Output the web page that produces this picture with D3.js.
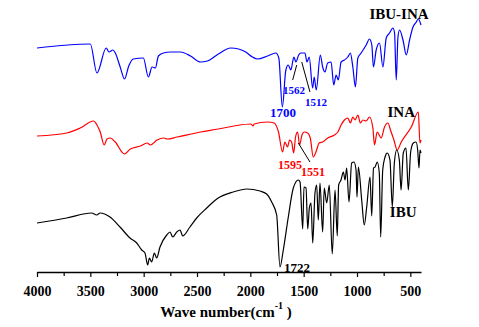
<!DOCTYPE html>
<html>
<head>
<meta charset="utf-8">
<script src="https://cdn.jsdelivr.net/npm/d3@7"></script>
<style>
  html, body { margin: 0; padding: 0; background: #fff; }
  svg { display: block; }
</style>
</head>
<body>
<script>
// ---- Data (wavenumber cm^-1, offset transmittance a.u.) ----
const seriesNames = ["IBU-INA", "INA", "IBU"];
const seriesColors = ["#0000ff", "#ff0000", "#000000"];

const ibuInaWn = [4000,3500,3438,3351,3325,3288,3266,3220,3179,3140,3097,3003,2956,2921,2890,2862,2815,2749,2655,2560,2467,2403,2300,2184,2110,2043,1980,1933,1839,1761,1733,1700,1667,1645,1620,1592,1573,1547,1526,1510,1488,1469,1448,1416,1401,1382,1344,1322,1300,1275,1243,1218,1196,1175,1149,1118,1086,1062,1039,1015,992,961,914,883,861,846,820,789,757,726,695,663,648,632,616,601,569,538,507,475,444,425,400];
const ibuInaT  = [224,228,199,224,220,222,219,205,193,206,213,214,195,205,204,216,219,220,220,216,210,211,218,224,223,220,215,213,216,219,214,165,202,207,202,215,210,217,219,219,219,210,215,184,195,182,217,205,200,209,210,187,197,192,210,212,215,219,205,185,214,219,227,233,227,205,222,229,205,234,239,244,239,192,235,242,232,217,232,245,250,253,247];

const inaWn = [4000,3721,3595,3470,3438,3407,3370,3344,3313,3266,3181,3125,3031,2968,2937,2874,2812,2780,2686,2467,2300,2153,1996,1974,1965,1839,1777,1736,1698,1676,1651,1632,1613,1594,1576,1557,1538,1516,1495,1463,1438,1410,1385,1354,1322,1275,1212,1180,1149,1118,1086,1062,1039,1018,992,968,945,914,883,851,836,811,773,742,710,686,654,623,585,491,425,410,400];
const inaT  = [136,139,144,151,147,140,127,133,134,130,118,123,126,129,127,132,134,133,135,140,143,146,148,146,148,150,149,140,120,130,125,132,130,119,135,140,127,137,140,139,134,115,120,129,130,134,137,140,147,152,154,149,155,152,157,149,152,151,155,144,127,140,134,145,149,142,132,122,130,145,160,129,132];

const ibuWn = [4000,3722,3487,3440,3409,3316,3222,3128,3065,3018,2988,2962,2947,2925,2900,2878,2847,2784,2753,2728,2690,2659,2634,2566,2503,2409,2315,2160,2034,1909,1847,1800,1753,1722,1691,1644,1597,1550,1534,1509,1497,1478,1462,1447,1431,1415,1394,1378,1363,1347,1322,1307,1284,1260,1232,1206,1185,1172,1150,1128,1112,1097,1075,1050,1028,1009,1000,987,956,932,909,878,862,845,831,810,791,778,759,737,716,691,669,650,628,603,587,566,541,519,497,472,447,431,419,409,400];
const ibuT  = [49,54,59,57,59,55,45,34,29,22,19,7,14,10,19,14,25,37,40,35,40,42,36,45,54,64,73,80,83,81,78,70,57,5,22,55,84,92,90,43,85,84,43,64,69,29,79,87,52,89,40,84,69,87,18,82,36,87,92,100,92,104,70,109,110,102,75,105,72,47,65,95,56,104,105,110,99,35,102,115,119,112,65,109,122,112,82,119,124,82,120,129,130,122,104,122,119];

const majorTicks = [4000,3500,3000,2500,2000,1500,1000,500];
const minorTicks = [3750,3250,2750,2250,1750,1250,750];

// peak annotations
const peakLabels = ["1700","1562","1512","1595","1551","1722"];
const peakSeries = [0,0,0,1,1,2];
const peakTextWn = [1694,1591,1384,1628,1412,1684];
const peakTextT  = [155,178,166,103,96,0];
const peakAnchor = ["middle","middle","middle","middle","middle","start"];
const peakSize   = [13,11,11,12,12,13];
const leaderFromWn = [null,1603,1518,null,1550,null];
const leaderFromT  = [null,192,210,null,129,null];
const leaderToWn   = [null,1565,1441,null,1441,null];
const leaderToT    = [null,207,180,null,110,null];

const seriesLabelWn = [606,585,567];
const seriesLabelT  = [253,155,55];

// ---- Drawing ----
const W = 479, H = 327;
const svg = d3.select("body").append("svg").attr("width", W).attr("height", H)
  .style("background", "#fff");

const x = d3.scaleLinear().domain([4000, 400]).range([37, 421]);
const y = d3.scaleLinear().domain([0, 272]).range([272, 0]);

const line = d3.line().x(d => x(d[0])).y(d => y(d[1])).curve(d3.curveMonotoneX);
const series = [
  d3.zip(ibuInaWn, ibuInaT),
  d3.zip(inaWn, inaT),
  d3.zip(ibuWn, ibuT)
];

series.forEach((s, i) => {
  svg.append("path").datum(s)
    .attr("fill", "none")
    .attr("stroke", seriesColors[i])
    .attr("stroke-width", 1.2)
    .attr("stroke-linejoin", "round")
    .attr("d", line);
});

// leader lines and peak labels
peakLabels.forEach((lab, i) => {
  if (leaderFromWn[i] !== null) {
    svg.append("line")
      .attr("x1", x(leaderFromWn[i])).attr("y1", y(leaderFromT[i]))
      .attr("x2", x(leaderToWn[i])).attr("y2", y(leaderToT[i]))
      .attr("stroke", "#000").attr("stroke-width", 1);
  }
  svg.append("text")
    .attr("x", x(peakTextWn[i])).attr("y", y(peakTextT[i]))
    .attr("text-anchor", peakAnchor[i])
    .attr("font-family", "'Liberation Serif', 'Times New Roman', serif")
    .attr("font-weight", "bold")
    .attr("font-size", peakSize[i])
    .attr("fill", seriesColors[peakSeries[i]])
    .text(lab);
});

// series labels
seriesNames.forEach((n, i) => {
  svg.append("text")
    .attr("x", x(seriesLabelWn[i])).attr("y", y(seriesLabelT[i]))
    .attr("text-anchor", "middle")
    .attr("font-family", "'Liberation Serif', 'Times New Roman', serif")
    .attr("font-weight", "bold")
    .attr("font-size", 15)
    .attr("fill", "#000")
    .text(n);
});

// axis
const axisG = svg.append("g").attr("transform", `translate(0,${y(0)})`);
axisG.call(d3.axisBottom(x).tickValues(majorTicks).tickSizeInner(5).tickSizeOuter(0).tickPadding(9)
  .tickFormat(d3.format("d")));
axisG.select(".domain").attr("stroke", "#000").attr("stroke-width", 1.5);
axisG.selectAll(".tick line").attr("stroke", "#000").attr("stroke-width", 1.2);
axisG.selectAll(".tick text")
  .attr("font-family", "'Liberation Serif', 'Times New Roman', serif")
  .attr("font-weight", "bold")
  .attr("font-size", 14)
  .attr("fill", "#000");

const minorG = svg.append("g").attr("transform", `translate(0,${y(0)})`);
minorG.call(d3.axisBottom(x).tickValues(minorTicks).tickSizeInner(4).tickSizeOuter(0).tickFormat(""));
minorG.select(".domain").remove();
minorG.selectAll(".tick line").attr("stroke", "#000").attr("stroke-width", 1.2);

// axis title
const title = svg.append("text")
  .attr("x", 226).attr("y", 317)
  .attr("text-anchor", "middle")
  .attr("font-family", "'Liberation Serif', 'Times New Roman', serif")
  .attr("font-weight", "bold")
  .attr("font-size", 15)
  .attr("fill", "#000");
title.append("tspan").text("Wave number(cm");
title.append("tspan").attr("dy", -8).attr("font-size", 10).text("-1");
title.append("tspan").attr("dy", 8).text(" )");
</script>
</body>
</html>
